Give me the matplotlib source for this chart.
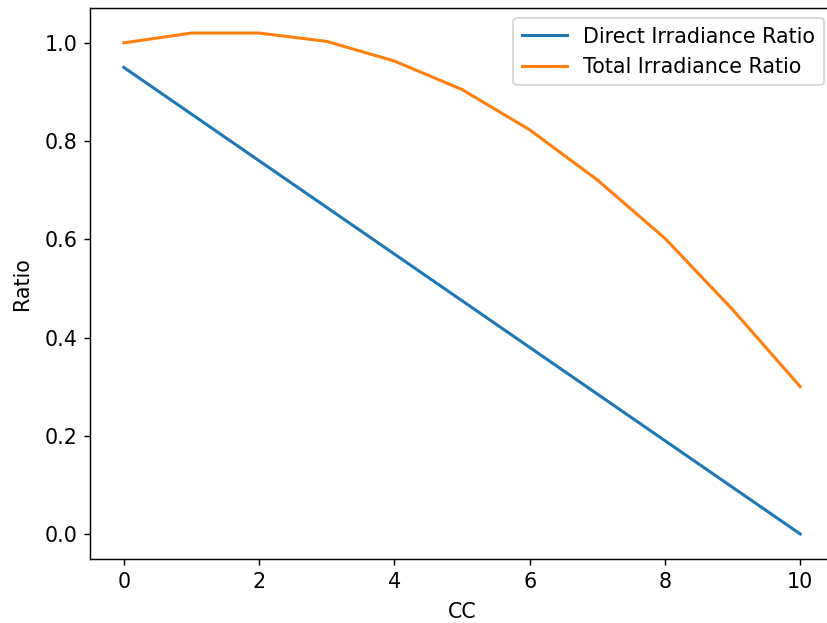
import matplotlib
matplotlib.use("Agg")
import matplotlib.pyplot as plt

cc = [0, 1, 2, 3, 4, 5, 6, 7, 8, 9, 10]
direct_ratio = [0.95, 0.855, 0.76, 0.665, 0.57, 0.475, 0.38, 0.285, 0.19, 0.095, 0.0]
total_ratio = [1.0, 1.02, 1.02, 1.003, 0.963, 0.905, 0.823, 0.721, 0.602, 0.457, 0.30]

plt.rcParams["font.size"] = 11.5
plt.rcParams["lines.linewidth"] = 1.7

DPI = 129
fig = plt.figure(figsize=(827 / DPI, 623 / DPI), dpi=DPI)
# axes run past the right edge, like the cropped original
ax = fig.add_axes([90 / 827, 64 / 623, 744 / 827, 551 / 623])

ax.plot(cc, direct_ratio, label="Direct Irradiance Ratio")
ax.plot(cc, total_ratio, label="Total Irradiance Ratio")
ax.set_xlabel("CC", labelpad=6)
ax.set_ylabel("Ratio", labelpad=7)
ax.set_xticks([0, 2, 4, 6, 8, 10])
ax.legend(loc="upper right", handlelength=2.2)
ax.spines["right"].set_visible(False)  # cut off in the original

fig.savefig("out.png", dpi=DPI)
